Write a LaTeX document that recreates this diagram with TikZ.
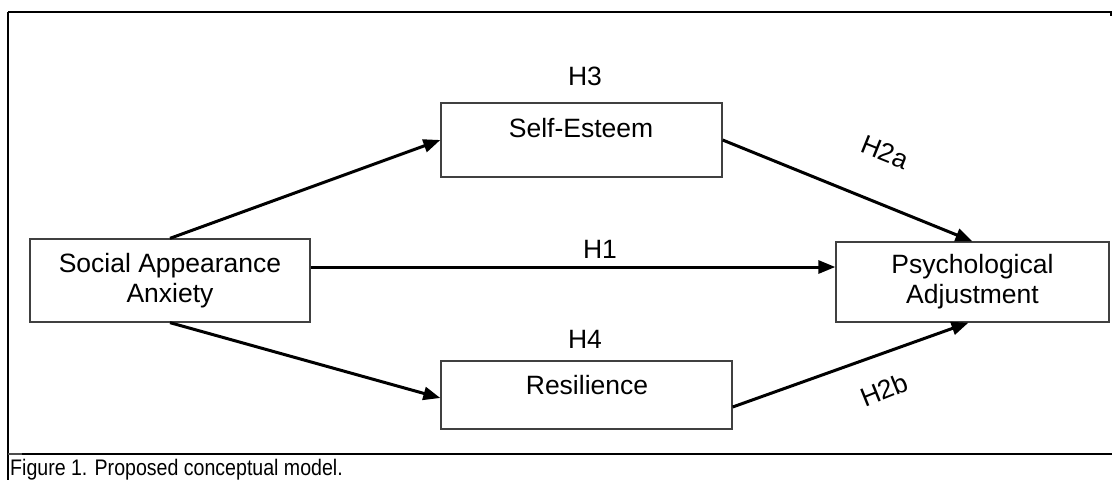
\documentclass[tikz,border=0pt]{standalone}
\usepackage{fontspec}
\setmainfont{Liberation Sans}
\usetikzlibrary{arrows.meta}
\begin{document}
\begin{tikzpicture}[x=1pt,y=-1pt,
  box/.style={draw=black!75,line width=1.3pt,inner sep=0pt},
  txt/.style={font=\fontsize{26.5}{30}\selectfont,inner sep=0pt,align=center},
  conn/.style={line width=3pt,-{Triangle[length=17pt,width=13pt]}},
  frame/.style={line width=1.5pt,black}]
\useasboundingbox (0,0) rectangle (1112,480);
% frame
\draw[frame] (8,12) -- (1112,12);
\draw[frame] (8,12) -- (8,480);
\draw[frame] (8,454) -- (1112,454);
\draw[frame] (1111,12) -- (1111,16);
\draw[line width=2.6pt] (8,12) -- (22,12);
\draw[line width=2.2pt,black!70] (8,454) -- (22,454);
% boxes
\node[box,txt,minimum width=280pt,minimum height=83pt] (saa) at (170,280.5) {Social Appearance\\Anxiety};
\node[box,txt,minimum width=273pt,minimum height=80pt] (pa) at (972.5,282) {Psychological\\Adjustment};
\node[box,minimum width=281pt,minimum height=74pt] (se) at (581.5,140) {};
\node[txt,anchor=base] (set) at (581,137) {Self-Esteem};
\node[box,minimum width=291pt,minimum height=68pt] (res) at (586.5,395) {};
\node[txt,anchor=base] (rest) at (587,394) {Resilience};
% connectors
\draw[conn] (saa.north) -- (se.west);
\draw[conn] ([yshift=13.5pt]saa.east) -- ([yshift=15pt]pa.west);
\draw[conn] (saa.south) -- ([yshift=-3pt]res.west);
\draw[conn] (se.east) -- (pa.north);
\draw[conn] ([yshift=-12pt]res.east) -- ([xshift=-4pt]pa.south);
% labels
\node[txt] (h3) at (585,76) {H3};
\node[txt] (h1) at (600,249) {H1};
\node[txt] (h4) at (585,339) {H4};
\node[txt,rotate=-22] (h2a) at (885,152) {H2a};
\node[txt,rotate=22] (h2b) at (884,390) {H2b};
% caption
\node[anchor=base west,inner sep=0pt,font=\fontsize{22.5}{24}\selectfont] (cap) at (10,475) {\scalebox{0.87}[1]{Figure 1. Proposed conceptual model.}};
\end{tikzpicture}
\end{document}
